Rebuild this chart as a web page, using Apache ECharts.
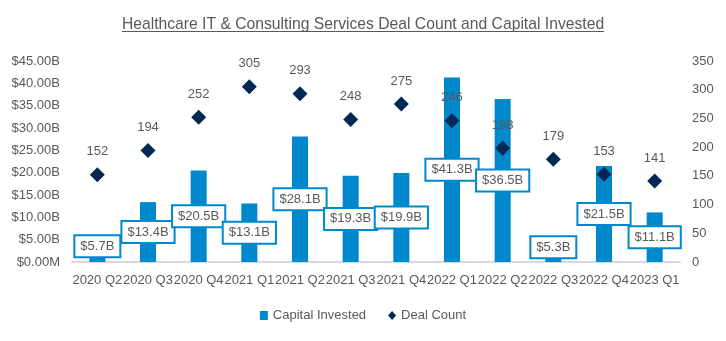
<!DOCTYPE html>
<html>
<head>
<meta charset="utf-8">
<script src="https://cdn.jsdelivr.net/npm/echarts@6/dist/echarts.min.js"></script>
<style>
  html, body { margin: 0; padding: 0; background: #fff; }
  #chart { width: 726px; height: 341px; }
</style>
</head>
<body>
<div id="chart"></div>
<script>
// 季度
const quarters = [
  "2020 Q2", "2020 Q3", "2020 Q4", "2021 Q1", "2021 Q2", "2021 Q3",
  "2021 Q4", "2022 Q1", "2022 Q2", "2022 Q3", "2022 Q4", "2023 Q1"
];
// 投资金额 (十亿美元)
const capitalInvested = [5.7, 13.4, 20.5, 13.1, 28.1, 19.3, 19.9, 41.3, 36.5, 5.3, 21.5, 11.1];
// 交易数量
const dealCount = [152, 194, 252, 305, 293, 248, 275, 246, 198, 179, 153, 141];
// 右侧坐标刻度
const countTicks = [0, 50, 100, 150, 200, 250, 300, 350];

const FONT = "Liberation Sans";
const GRAY = "#595959";
const BLUE = "#0088cc";
const NAVY = "#002855";
const TITLE = "Healthcare IT & Consulting Services Deal Count and Capital Invested";
const TITLE_SIZE = 15.7;

const chartDom = document.getElementById("chart");
const myChart = echarts.init(chartDom);

// 标题下划线长度按文字宽度算
const ctx = document.createElement("canvas").getContext("2d");
ctx.font = TITLE_SIZE + "px " + FONT;
const titleWidth = ctx.measureText(TITLE).width;
const chartWidth = chartDom.clientWidth;

const option = {
  animation: false,
  textStyle: { fontFamily: FONT },
  title: {
    text: TITLE,
    left: "center",
    top: 12,
    textStyle: {
      color: GRAY,
      fontSize: TITLE_SIZE,
      fontWeight: "normal",
      fontFamily: FONT
    }
  },
  graphic: [
    {
      type: "line",
      shape: {
        x1: (chartWidth - titleWidth) / 2,
        y1: 31.5,
        x2: (chartWidth + titleWidth) / 2,
        y2: 31.5
      },
      style: { stroke: GRAY, lineWidth: 1 }
    }
  ],
  legend: {
    bottom: 14,
    left: "center",
    itemGap: 22,
    textStyle: { color: GRAY, fontSize: 13, fontFamily: FONT },
    data: [
      { name: "Capital Invested", icon: "rect", itemStyle: { color: BLUE } },
      { name: "Deal Count", icon: "diamond", itemStyle: { color: NAVY, opacity: 1 } }
    ],
    itemWidth: 8,
    itemHeight: 9
  },
  grid: {
    left: 72,
    right: 46,
    top: 61,
    bottom: 79
  },
  xAxis: {
    type: "category",
    data: quarters,
    axisTick: { show: false },
    axisLine: { lineStyle: { color: "#d9d9d9", width: 2 } },
    axisLabel: {
      interval: 0,
      color: GRAY,
      fontSize: 13,
      margin: 12
    }
  },
  yAxis: [
    {
      type: "value",
      min: 0,
      max: 45,
      interval: 5,
      splitLine: { show: false },
      axisLine: { show: false },
      axisTick: { show: false },
      axisLabel: {
        color: GRAY,
        fontSize: 13,
        margin: 12,
        formatter: (v) => (v === 0 ? "$0.00M" : "$" + v.toFixed(2) + "B")
      }
    },
    {
      type: "value",
      min: countTicks[0],
      max: countTicks[countTicks.length - 1],
      interval: 50,
      splitLine: { show: false },
      axisLine: { show: false },
      axisTick: { show: false },
      axisLabel: { color: GRAY, fontSize: 13, margin: 12 }
    }
  ],
  series: [
    {
      name: "Capital Invested",
      type: "bar",
      yAxisIndex: 0,
      barWidth: 16,
      itemStyle: { color: BLUE },
      z: 2,
      data: capitalInvested.map((v) => ({
        value: v,
        label: { offset: [0, v < 8 ? -3 : 0] }
      })),
      label: {
        show: true,
        position: "inside",
        formatter: (p) => "$" + p.value.toFixed(1) + "B",
        color: GRAY,
        fontSize: 13,
        backgroundColor: "#fff",
        borderColor: BLUE,
        borderWidth: 2,
        padding: [4, 5, 3, 5]
      }
    },
    {
      name: "Deal Count",
      type: "scatter",
      yAxisIndex: 1,
      symbol: "diamond",
      symbolSize: 15,
      itemStyle: { color: NAVY, opacity: 1 },
      z: 3,
      data: dealCount,
      label: {
        show: true,
        position: "top",
        distance: 9,
        color: GRAY,
        fontSize: 13
      }
    }
  ]
};

option && myChart.setOption(option);
</script>
</body>
</html>
